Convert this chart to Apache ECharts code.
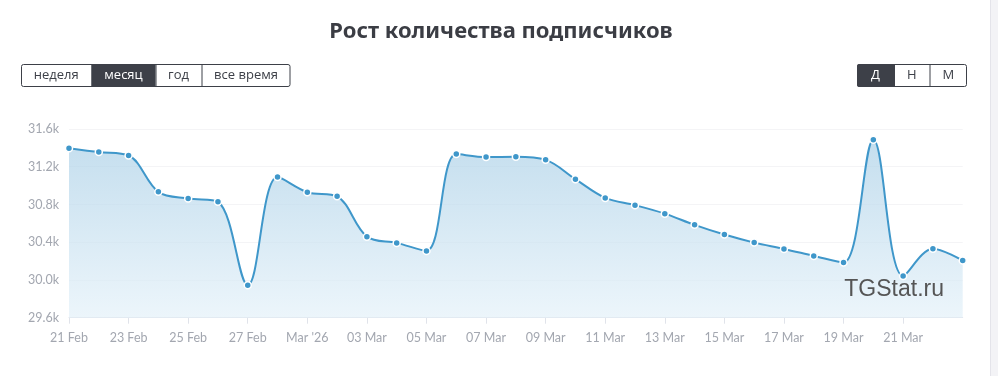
<!DOCTYPE html>
<html>
<head>
<meta charset="utf-8">
<script src="https://cdn.jsdelivr.net/npm/echarts@6/dist/echarts.min.js"></script>
<style>
html,body{margin:0;padding:0;background:#fff;}
#chart{width:998px;height:376px;}
</style>
</head>
<body>
<div id="chart"></div>
<script>
const titleText = 'Рост количества подписчиков';
const categories = ['21 Feb','22 Feb','23 Feb','24 Feb','25 Feb','26 Feb','27 Feb','28 Feb',"Mar '26",'02 Mar','03 Mar','04 Mar','05 Mar','06 Mar','07 Mar','08 Mar','09 Mar','10 Mar','11 Mar','12 Mar','13 Mar','14 Mar','15 Mar','16 Mar','17 Mar','18 Mar','19 Mar','20 Mar','21 Mar','22 Mar','23 Mar'];
const subscribers = [31395,31355,31319,30934,30863,30828,29944,31090,30930,30886,30459,30393,30308,31334,31302,31305,31273,31068,30870,30793,30703,30584,30481,30396,30329,30255,30184,31485,30042,30332,30205];
const yMin = 29600, yMax = 31600, yStep = 400;
const periodButtons = ['неделя','месяц','год','все время'];
const periodActive = 1;
const scaleButtons = ['Д','Н','М'];
const scaleActive = 0;
const watermark = 'TGStat.ru';

function buttonGroup(labels, active, xs, y, h) {
  const els = [];
  const x0 = xs[0], x1 = xs[xs.length-1];
  els.push({type:'rect', shape:{x:x0+0.5,y:y+0.5,width:x1-x0-1,height:h-1,r:2}, style:{fill:'#fff',stroke:'#3d4048',lineWidth:1}, z:1});
  for (let i=0;i<labels.length;i++){
    const a = xs[i], b = xs[i+1];
    if (i===active) {
      els.push({type:'rect', shape:{x:a,y:y,width:b-a,height:h,r: i===0?[2,0,0,2]:(i===labels.length-1?[0,2,2,0]:0)}, style:{fill:'#3d4048'}, z:2});
    }
    if (i>0) {
      els.push({type:'line', shape:{x1:a+0.5,y1:y,x2:a+0.5,y2:y+h}, style:{stroke:'#3d4048',lineWidth:1}, z:2});
    }
    els.push({type:'text', x:(a+b)/2, y:y+h/2, style:{text:labels[i], fill: i===active?'#fff':'#3d4048', font:'13px "Open Sans", sans-serif', align:'center', verticalAlign:'middle'}, z:3});
  }
  return els;
}

const lastIdx = categories.length - 1;
const showEveryOther = (idx) => idx % 2 === 0 && idx !== lastIdx;

const chart = echarts.init(document.getElementById('chart'), null, {renderer:'canvas'});
const graphics = [].concat(
  buttonGroup(periodButtons, periodActive, [21,91.5,155.5,201.5,290.5], 64, 23),
  buttonGroup(scaleButtons, scaleActive, [857,894,929.5,967], 64, 23),
  [
    {type:'rect', shape:{x:991,y:0,width:7,height:376}, style:{fill:'#f3f3f6'}, z:0},
    {type:'line', shape:{x1:990.5,y1:0,x2:990.5,y2:376}, style:{stroke:'#e4e4ea',lineWidth:1}, z:0},
    {type:'text', x:944, y:290, style:{text:watermark, fill:'#555', font:'23px "Liberation Sans", Arial, sans-serif', align:'right', verticalAlign:'middle'}, z:10}
  ]
);

chart.setOption({
  animation:false,
  backgroundColor:'#fff',
  title:{text:titleText, top:16, left:496, textAlign:'center',
    textStyle:{fontFamily:'"Noto Sans", sans-serif', fontWeight:'bold', fontSize:22, color:'#3b3d44'}},
  grid:{left:69, right:35.3, top:129, bottom:58.3},
  xAxis:{type:'category', data:categories, boundaryGap:false,
    axisLine:{lineStyle:{color:'#e0e3ea'}},
    axisTick:{interval:showEveryOther, length:6, lineStyle:{color:'#e0e3ea'}},
    axisLabel:{interval:showEveryOther, color:'#a3a7b0', fontSize:12.5, fontFamily:'Lato, sans-serif', margin:14},
    splitLine:{show:false}},
  yAxis:{type:'value', min:yMin, max:yMax, interval:yStep,
    axisLine:{show:false}, axisTick:{show:false},
    axisLabel:{color:'#a3a7b0', fontSize:12.5, fontFamily:'Lato, sans-serif', margin:10, padding:[0,0,4,0],
      formatter:v=>(v/1000).toFixed(1)+'k'},
    splitLine:{lineStyle:{color:'#f4f4f6'}}},
  series:[{type:'line', data:subscribers, smooth:0.35,
    symbol:'circle', symbolSize:7, showSymbol:true,
    lineStyle:{color:'#3f97ca', width:2},
    itemStyle:{color:'#3f97ca', borderColor:'#fff', borderWidth:1.5},
    areaStyle:{color:new echarts.graphic.LinearGradient(0,0,0,1,[{offset:0,color:'#abd0e7'},{offset:1,color:'#e4f1f9'}])},
    z:2}],
  graphic:graphics
});
</script>
</body>
</html>
